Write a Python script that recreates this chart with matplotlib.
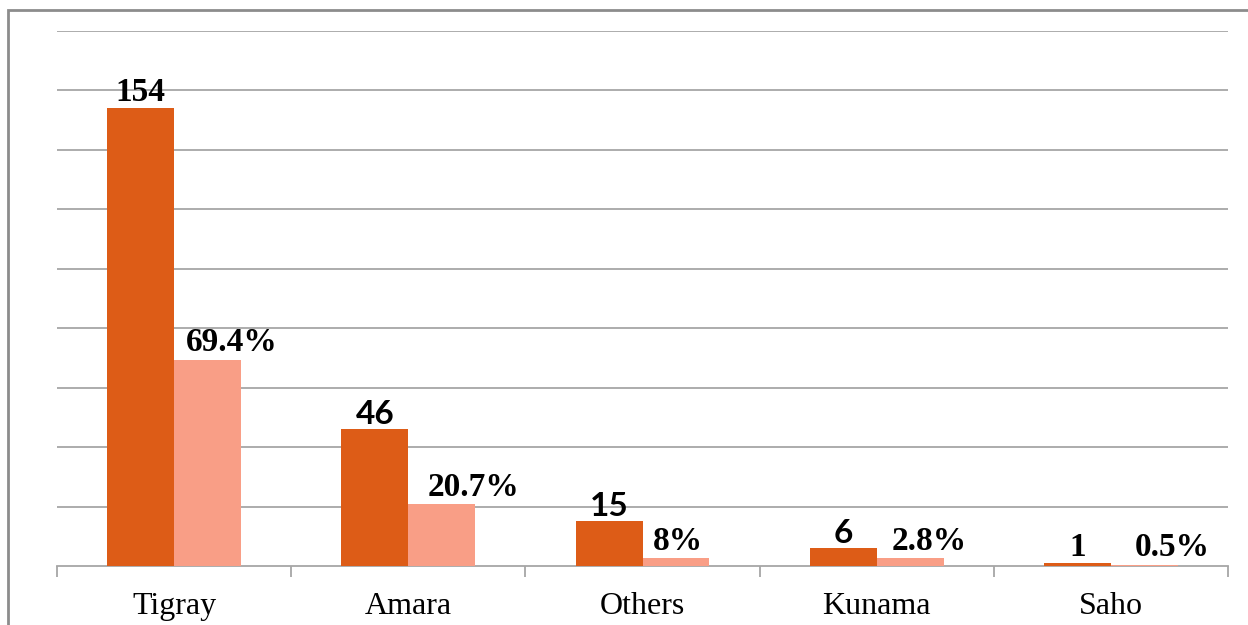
import numpy as np
import matplotlib.pyplot as plt
from matplotlib.patches import Rectangle

categories = ['Tigray', 'Amara', 'Others', 'Kunama', 'Saho']
counts = [154, 46, 15, 6, 1]
count_labels = ['154', '46', '15', '6', '1']
percents = [69.4, 20.7, 2.6, 2.7, 0.5]
percent_labels = ['69.4%', '20.7%', '8%', '2.8%', '0.5%']

DARK = '#DD5C17'
LIGHT = '#F99E86'
GRID = '#A6A6A6'
SERIF = ['Liberation Serif', 'DejaVu Serif']
SANS = ['Lato', 'DejaVu Sans']

fig = plt.figure(figsize=(12.48, 6.25), dpi=100)
ax = fig.add_axes([57 / 1248, 1 - 566 / 625, (1228 - 57) / 1248, (566 - 31) / 625])

x = np.arange(len(categories))
w = 0.286
ax.bar(x - w / 2, counts, w, color=DARK, zorder=3)
ax.bar(x + w / 2, percents, w, color=LIGHT, zorder=3)

ax.set_xlim(-0.5, len(categories) - 0.5)
ax.set_ylim(0, 180)
ax.set_yticks(np.arange(20, 181, 20))
ax.yaxis.grid(True, color=GRID, linewidth=1.3, zorder=0)
ax.tick_params(axis='y', length=0, labelleft=False)

ax.set_xticks(np.arange(-0.5, len(categories)))
ax.set_xticklabels([])
ax.set_xticks(x, minor=True)
ax.set_xticklabels(categories, minor=True, fontsize=23, family=SERIF)
ax.tick_params(axis='x', which='major', length=8, color=GRID, width=1.3)
ax.tick_params(axis='x', which='minor', length=0, pad=19)

for s in ['left', 'right', 'top']:
    ax.spines[s].set_visible(False)
ax.spines['bottom'].set_color(GRID)
ax.spines['bottom'].set_linewidth(1.3)

# count labels (mixed fonts as in the original)
count_fonts = [SERIF, SANS, SANS, SANS, SERIF]
for xi, v, lab, fam in zip(x, counts, count_labels, count_fonts):
    ax.annotate(lab, (xi - w / 2, v), xytext=(0, 0), textcoords='offset points',
                ha='center', va='bottom', fontsize=24, fontweight='bold', family=fam)

# percentage labels, nudged right like the original
pct_shift = [0.105, 0.135, 0.01, 0.08, 0.12]
for xi, v, lab, dx in zip(x, percents, percent_labels, pct_shift):
    ax.annotate(lab, (xi + w / 2 + dx, v), xytext=(0, 1), textcoords='offset points',
                ha='center', va='bottom', fontsize=24, fontweight='bold', family=SERIF)

fig.patches.append(Rectangle((8 / 1248, -0.1), 1.2, 1 - 10 / 625 + 0.1,
                             transform=fig.transFigure, fill=False,
                             edgecolor='#8C8C8C', linewidth=2))

fig.savefig('out.png', dpi=100)
